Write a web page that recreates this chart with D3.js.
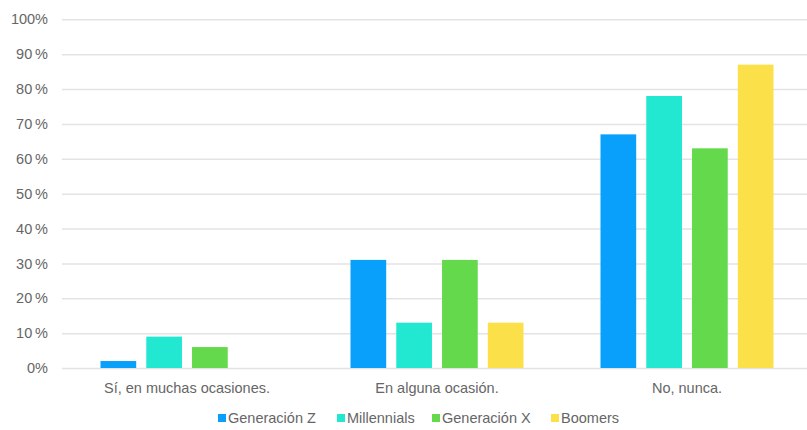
<!DOCTYPE html>
<html>
<head>
<meta charset="utf-8">
<script src="https://cdn.jsdelivr.net/npm/d3@7"></script>
<style>
  html, body { margin: 0; padding: 0; background: #fff; }
  svg { display: block; font-family: "Liberation Sans", Arial, sans-serif; }
</style>
</head>
<body>
<svg id="chart" width="807" height="430"></svg>
<script>
// Survey answers by generation (percent)
const categories = ["Sí, en muchas ocasiones.", "En alguna ocasión.", "No, nunca."];
const seriesNames = ["Generación Z", "Millennials", "Generación X", "Boomers"];
const genZ = [2, 31, 67];
const millennials = [9, 13, 78];
const genX = [6, 31, 63];
const boomers = [0, 13, 87];
const yTicks = [0, 10, 20, 30, 40, 50, 60, 70, 80, 90, 100];
const colors = ["#08A0FB", "#22E8D2", "#63D94B", "#FBE04A"];

const seriesValues = [genZ, millennials, genX, boomers];

const svg = d3.select("#chart");
const plotLeft = 62, plotRight = 812, plotTop = 19.3, plotBottom = 368;

const x0 = d3.scaleBand().domain(categories).range([plotLeft, plotRight]).padding(0);
const x1 = d3.scaleBand().domain(seriesNames)
  .range([x0.bandwidth() * 0.154, x0.bandwidth() * 0.846])
  .paddingInner(0.22).paddingOuter(0);
const y = d3.scaleLinear().domain([0, 100]).range([plotBottom, plotTop]);
const color = d3.scaleOrdinal().domain(seriesNames).range(colors);

// Horizontal gridlines and percent labels
const yAxis = d3.axisLeft(y).tickValues(yTicks).tickSize(-(plotRight - plotLeft))
  .tickFormat(d => d === 0 || d === 100 ? d + "%" : d + "\u2009%");
const gy = svg.append("g").attr("transform", `translate(${plotLeft},0)`).call(yAxis);
gy.select(".domain").remove();
gy.selectAll(".tick line").attr("stroke", "#e3e3e3").attr("stroke-width", 1.5);
gy.selectAll(".tick text").attr("x", -14).attr("fill", "#666").attr("font-size", 14.5);

// Bars
const groups = svg.append("g").selectAll("g")
  .data(categories)
  .join("g")
  .attr("transform", d => `translate(${x0(d)},0)`);

groups.selectAll("rect")
  .data((c, i) => seriesNames.map((s, j) => ({ s, v: seriesValues[j][i] })))
  .join("rect")
  .attr("x", d => x1(d.s))
  .attr("width", x1.bandwidth())
  .attr("y", d => y(d.v))
  .attr("height", d => y(0) - y(d.v))
  .attr("fill", d => color(d.s));

// Category labels
const xAxis = d3.axisBottom(x0).tickSize(0);
const gx = svg.append("g").attr("transform", `translate(0,${plotBottom})`).call(xAxis);
gx.select(".domain").remove();
gx.selectAll(".tick text").attr("dy", 22).attr("fill", "#666").attr("font-size", 14.5);

// Legend
const legendX = [218, 337, 432, 551];
const legend = svg.append("g").selectAll("g")
  .data(seriesNames)
  .join("g")
  .attr("transform", (d, i) => `translate(${legendX[i]},418)`);
legend.append("rect").attr("x", 0).attr("y", -4).attr("width", 8).attr("height", 8)
  .attr("fill", d => color(d));
legend.append("text").attr("x", 10).attr("dy", "0.35em")
  .attr("fill", "#666").attr("font-size", 14.5).text(d => d);
</script>
</body>
</html>
